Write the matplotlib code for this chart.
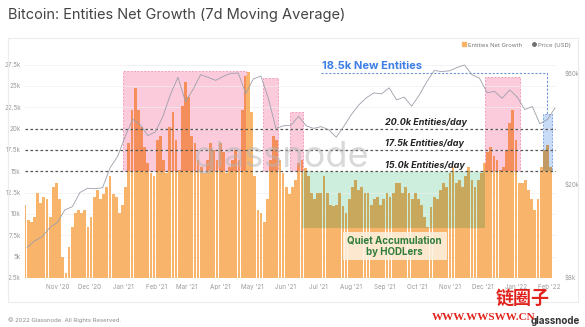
import numpy as np
import pandas as pd
import matplotlib
matplotlib.use("Agg")
import matplotlib.pyplot as plt
import matplotlib.dates as mdates
from matplotlib.patches import Rectangle
from matplotlib.lines import Line2D

growth_k = [
    11.1, 9.3, 9.0, 9.7, 12.5, 11.3, 12.0, 11.7, 9.7, 13.2, 13.6, 11.7, 5.0, 3.1, 6.1,
    8.5, 10.1, 10.5, 10.1, 10.5, 8.5, 9.7, 12.0, 12.8, 11.7, 12.3, 13.2, 14.4, 12.3, 12.0,
    10.1, 11.1, 13.2, 18.3, 22.2, 24.8, 22.2, 20.2, 17.9, 16.0, 14.8, 14.4, 18.7, 19.1, 16.3,
    14.8, 20.2, 21.9, 18.7, 15.2, 22.6, 25.4, 23.7, 19.1, 18.3, 16.3, 15.5, 14.8, 16.3, 18.3,
    17.5, 16.3, 18.3, 17.2, 14.8, 15.5, 16.3, 17.5, 16.3, 22.2, 26.1, 26.6, 21.9, 14.4, 10.5,
    10.1, 9.0, 11.7, 16.3, 19.1, 18.7, 16.3, 14.8, 13.2, 12.3, 13.2, 14.0,
    16.0, 16.3, 15.4, 14.4, 12.5, 11.7, 12.5, 12.5, 14.4, 12.5, 11.1, 10.9, 11.1, 12.5, 10.9,
    10.1, 11.7, 13.2, 14.0, 12.8, 13.2, 12.5, 12.5, 11.1, 11.7, 12.0, 11.1, 11.7, 12.5, 12.0,
    12.5, 13.6, 13.6, 12.5, 13.2, 12.5, 11.7, 12.5, 11.7, 11.1, 9.7, 8.5,
    10.8, 12.0, 11.7, 12.8, 13.6, 13.2, 14.8, 15.5, 13.6, 14.0, 13.2, 14.4, 15.5, 14.0, 13.2,
    14.0, 14.8, 16.0, 17.2, 17.8, 16.8, 16.3, 15.2, 15.5, 17.5, 20.7, 22.2, 18.7, 13.6, 13.6,
    14.0, 12.8, 11.7, 10.5, 11.7, 15.5, 17.5, 18.1, 15.5,
]
growth_start, growth_end = "2020-10-02", "2022-02-02"

# BTC price (USD, thousands), weekly
price_k = [
    10.7, 11.4, 11.9, 13.0, 13.7, 15.5, 16.0, 18.4, 19.2, 19.1, 19.3, 23.5, 26.3, 32.0,
    38.0, 36.0, 32.3, 33.5, 39.0, 48.5, 57.5, 45.2, 51.0, 59.0, 57.5, 55.8, 58.0, 59.8,
    60.0, 49.0, 56.6, 58.2, 46.5, 34.7, 35.6, 35.8, 39.1, 35.6, 34.7, 35.3, 34.2, 31.8,
    35.4, 39.8, 43.8, 47.0, 49.3, 48.8, 51.8, 46.0, 47.3, 43.2, 48.2, 55.0, 61.5, 60.9,
    61.3, 63.3, 65.0, 59.0, 57.0, 49.4, 50.0, 46.7, 50.8, 47.3, 41.8, 43.1, 36.3, 37.9, 42.4,
]
price_start = "2020-10-04"

# highlighted windows: (start, end, low, high, kind)
boxes = [
    ("2021-01-01", "2021-04-25", 15.0, 26.7, "pink"),
    ("2021-05-11", "2021-05-25", 15.0, 25.9, "pink"),
    ("2021-06-05", "2021-06-17", 15.0, 21.9, "pink"),
    ("2021-06-16", "2021-12-03", 8.4, 15.0, "green"),
    ("2021-12-03", "2022-01-05", 15.0, 26.0, "pink"),
    ("2022-01-26", "2022-02-03", 15.0, 21.7, "blue"),
]
levels = [20.0, 17.5, 15.0]
level_labels = ["20.0k Entities/day", "17.5k Entities/day", "15.0k Entities/day"]

left_ticks = [2.5, 5, 7.5, 10, 12.5, 15, 17.5, 20, 22.5, 25, 27.5]
left_labels = ["2.5k", "5k", "7.5k", "10k", "12.5k", "15k", "17.5k", "20k", "22.5k", "25k", "27.5k"]
price_ticks = [8, 20, 60]
price_labels = ["$8k", "$20k", "$60k"]
month_ticks = pd.date_range("2020-11-01", "2022-02-01", freq="MS")

BAR = "#f8b46a"
FILL = {"pink": "#fbcbdc", "green": "#cdeedd", "blue": "#c7daf6"}
EDGE = {"pink": "#f19bbd", "green": "#cdeedd", "blue": "#7fa6e6"}
TXT = "#9a9a9a"

plt.rcParams["font.family"] = ["Inter", "DejaVu Sans"]

fig = plt.figure(figsize=(5.85, 3.27), dpi=100)
fig.patch.set_facecolor("white")

# card border
fig.add_artist(Rectangle((8 / 585, 1 - 302 / 327), 570 / 585, 264 / 327, transform=fig.transFigure,
                         fill=False, edgecolor="#ececec", linewidth=0.8))

ax = fig.add_axes([25 / 585, 1 - 278 / 327, 531 / 585, 222 / 327])
dates = pd.date_range(growth_start, growth_end, periods=len(growth_k))
step = (dates[1] - dates[0]).total_seconds() / 86400
bw = step * 0.88

ax.bar(dates, growth_k, width=bw, color=BAR, zorder=2, linewidth=0)

bar_rgb = np.array(matplotlib.colors.to_rgb(BAR))
for s, e, lo, hi, kind in boxes:
    x0 = mdates.date2num(pd.Timestamp(s))
    x1 = mdates.date2num(pd.Timestamp(e))
    ax.add_patch(Rectangle((x0, lo), x1 - x0, hi - lo, facecolor=FILL[kind], edgecolor=EDGE[kind],
                           linestyle=(0, (2, 1.5)), linewidth=0.7, zorder=1))
    clip = Rectangle((x0, lo), x1 - x0, hi - lo, transform=ax.transData)
    shade = tuple(bar_rgb * np.array(matplotlib.colors.to_rgb(FILL[kind])))
    for p in ax.bar(dates, growth_k, width=bw, color=shade, zorder=3, linewidth=0):
        p.set_clip_path(clip)

for lv, lab in zip(levels, level_labels):
    ax.axhline(lv, color="#555555", linestyle=(0, (2, 2)), linewidth=0.9, zorder=4)
    ax.text(pd.Timestamp("2021-09-01"), lv + 0.7, lab, fontsize=6.5, fontweight="bold",
            fontstyle="italic", color="#222222", va="center", ha="left", zorder=6)

# 18.5k annotation
blue = "#3d7fe6"
ax.plot([pd.Timestamp("2021-07-04"), pd.Timestamp("2022-01-30"), pd.Timestamp("2022-01-30")],
        [26.56, 26.56, 21.7], color="#6f95d6", linestyle=(0, (2, 1.5)), linewidth=0.8, zorder=5)
ax.text(pd.Timestamp("2021-08-20"), 27.3, "18.5k New Entities", fontsize=8, fontweight="bold",
        color=blue, ha="center", va="center", zorder=6)

# quiet accumulation label
qx0 = mdates.date2num(pd.Timestamp("2021-07-24"))
qx1 = mdates.date2num(pd.Timestamp("2021-10-29"))
ax.add_patch(Rectangle((qx0, 4.6), qx1 - qx0, 3.3, facecolor="#fdf1e2", alpha=0.85,
                       edgecolor="none", zorder=5))
ax.text(pd.Timestamp("2021-09-10"), 6.25, "Quiet Accumulation\nby HODLers", fontsize=7,
        fontweight="bold", color="#2f7d3a", ha="center", va="center", linespacing=1.2, zorder=6)

ax.text(pd.Timestamp("2021-05-28"), 16.6, "glassnode", fontsize=26, color="#b5b5b5", alpha=0.5,
        ha="center", va="center", zorder=5)

ax.set_xlim(pd.Timestamp("2020-10-02"), pd.Timestamp("2022-02-07"))
ax.set_ylim(2.5, 28.5)
ax.set_yticks(left_ticks)
ax.set_yticklabels(left_labels)
ax.set_xticks(month_ticks)
ax.set_xticklabels([d.strftime("%b '%y") for d in month_ticks])
ax.tick_params(axis="both", length=0, labelsize=4.5, labelcolor=TXT, pad=4)
ax.tick_params(axis="y", pad=3)
ax.grid(axis="y", color="#eeeeee", linewidth=0.5, zorder=0)
for sp in ax.spines.values():
    sp.set_visible(False)

ax2 = ax.twinx()
pdates = pd.date_range(price_start, periods=len(price_k), freq="7D")
ax2.plot(pdates, price_k, color="#9c9eaa", linewidth=0.6, zorder=3)
ax2.set_yscale("log")
ax2.set_ylim(7.9, 71)
ax2.set_yticks(price_ticks)
ax2.set_yticklabels(price_labels)
ax2.yaxis.set_minor_locator(matplotlib.ticker.NullLocator())
ax2.tick_params(axis="y", length=0, labelsize=4.5, labelcolor=TXT, pad=6)
for sp in ax2.spines.values():
    sp.set_visible(False)

handles = [Line2D([], [], marker="s", linestyle="none", color=BAR, markersize=2.5),
           Line2D([], [], marker="o", linestyle="none", color="#707070", markersize=2.5)]
fig.legend(handles, ["Entities Net Growth", "Price (USD)"], loc="center right",
           bbox_to_anchor=(0.985, 1 - 45 / 327), ncol=2, frameon=False, fontsize=4.3,
           handlelength=0.8, handletextpad=0.3, columnspacing=1.5, labelcolor="#777777")

fig.text(8 / 585, 1 - 15 / 327, "Bitcoin: Entities Net Growth (7d Moving Average)", fontsize=10.5,
         color="#444444", va="center", ha="left")
fig.text(8 / 585, 1 - 320 / 327, "\u00a9 2022 Glassnode. All Rights Reserved.", fontsize=4.3,
         color="#8a8a8a", va="center", ha="left")
fig.text(580 / 585, 1 - 321 / 327, "glassnode", fontsize=7, color="#333333", va="center",
         ha="right", fontweight="bold")

# repost watermark
fig.text(523 / 585, 1 - 298 / 327, "链圈子", fontsize=13, color="#e0231c", fontweight="bold",
         family=["Noto Sans CJK SC", "DejaVu Sans"], ha="center", va="center")
fig.text(535 / 585, 1 - 318 / 327, "WWW.WWSWW.CN", fontsize=8, color="#e0231c", fontweight="bold",
         family=["Liberation Serif", "DejaVu Serif"], ha="right", va="center")

fig.savefig("out.png", dpi=100, facecolor="white")
